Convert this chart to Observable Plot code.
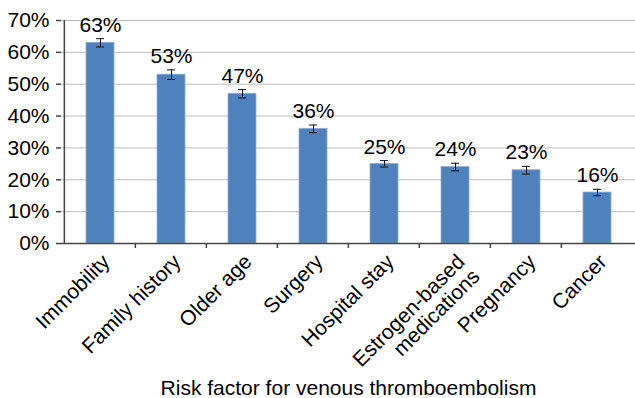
<!DOCTYPE html>
<html>
<head>
<meta charset="utf-8">
<script src="https://cdn.jsdelivr.net/npm/d3@7"></script>
<script src="https://cdn.jsdelivr.net/npm/@observablehq/plot@0.6"></script>
<style>
  html, body { margin: 0; padding: 0; background: #fff; }
</style>
</head>
<body>
<div id="chart"></div>
<script>
const categories = ["Immobility", "Family history", "Older age", "Surgery", "Hospital stay", "Estrogen-based\nmedications", "Pregnancy", "Cancer"];
const percents = [63, 53, 47, 36, 25, 24, 23, 16];
const errors = [1.3, 1.5, 1.3, 1.2, 1.0, 1.2, 1.2, 1.0];
const yTicks = [0, 10, 20, 30, 40, 50, 60, 70];
const xTitle = "Risk factor for venous thromboembolism";

const data = categories.map((c, i) => ({cat: c, v: percents[i], e: errors[i]}));

const W = 635, H = 398, mL = 61, mR = 0, mT = 20, mB = 155;
const padInner = 0.61, padOuter = padInner / 2;
const axisColor = "#444";

const font = "'Liberation Sans', Arial, Helvetica, sans-serif";

// left axis line and tick marks at category boundaries, placed from the scales
function categoryFrame(index, scales) {
  const x = scales.x, y = scales.y;
  const st = x(categories[1]) - x(categories[0]);
  const boundary = c => x(c) - st * padOuter;
  const y0 = y(0), yTop = y(yTicks[yTicks.length - 1]);
  const g = d3.create("svg:g").attr("stroke", axisColor).attr("stroke-width", 1.5);
  const left = boundary(categories[0]);
  g.append("line").attr("x1", left).attr("x2", left).attr("y1", y0).attr("y2", yTop);
  for (const c of categories.slice(1)) {
    const bx = boundary(c);
    g.append("line").attr("x1", bx).attr("x2", bx).attr("y1", y0).attr("y2", y0 + 5);
  }
  return g.node();
}

const chart = Plot.plot({
  width: W,
  height: H,
  marginLeft: mL,
  marginRight: mR,
  marginTop: mT,
  marginBottom: mB,
  style: {fontFamily: font, fontSize: "21px", color: "#000", background: "#fff", overflow: "visible"},
  x: {domain: categories, paddingInner: padInner, paddingOuter: padOuter, label: null},
  y: {domain: [0, 70], label: null},
  marks: [
    Plot.gridY(yTicks, {stroke: "#bdbdbd", strokeOpacity: 1, strokeWidth: 1}),
    Plot.barY(data, {x: "cat", y: "v", fill: "#4f81bd", stroke: "#8fb0da", strokeWidth: 0.8}),
    Plot.ruleX(data, {x: "cat", y1: d => d.v - d.e, y2: d => d.v + d.e, stroke: "#111", strokeWidth: 1}),
    Plot.tickY(data, {x: "cat", y: d => d.v - d.e, stroke: "#111", strokeWidth: 1, inset: 10}),
    Plot.tickY(data, {x: "cat", y: d => d.v + d.e, stroke: "#111", strokeWidth: 1, inset: 10}),
    Plot.text(data, {x: "cat", y: d => d.v + d.e, text: d => d.v + "%", dy: -7, lineAnchor: "bottom", fontSize: 21, fill: "#000"}),
    Plot.ruleY([0], {stroke: axisColor, strokeWidth: 1.5}),
    categoryFrame,
    Plot.axisY({ticks: yTicks, tickFormat: d => d + "%", tickSize: 5, tickPadding: 7, stroke: axisColor, strokeWidth: 1.5, fontSize: 21, label: null}),
    Plot.axisX({tickSize: 0, tickRotate: -45, tickPadding: 9, lineAnchor: "top", fontSize: 21, label: null}),
    Plot.text([xTitle], {frameAnchor: "bottom", dy: 151, lineAnchor: "bottom", fontSize: 21, fill: "#000"})
  ]
});

document.getElementById("chart").appendChild(chart);
</script>
</body>
</html>
